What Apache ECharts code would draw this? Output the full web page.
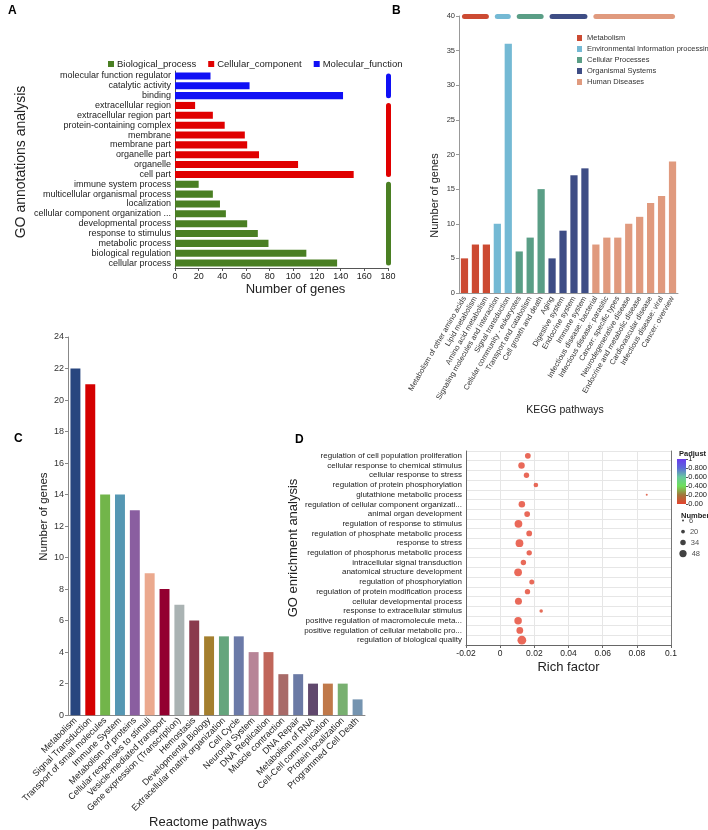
<!DOCTYPE html>
<html>
<head>
<meta charset="utf-8">
<script src="https://cdn.jsdelivr.net/npm/echarts@6/dist/echarts.min.js"></script>
<style>
html, body { margin: 0; padding: 0; background: #fff; }
#chart { width: 708px; height: 830px; }
</style>
</head>
<body>
<div id="chart"></div>
<script>
// ---------- 数据 ----------
// A: GO annotations (top to bottom)
const goTerms = [
  'molecular function regulator', 'catalytic activity', 'binding',
  'extracellular region', 'extracellular region part', 'protein-containing complex',
  'membrane', 'membrane part', 'organelle part', 'organelle', 'cell part',
  'immune system process', 'multicellular organismal process', 'localization',
  'cellular component organization ...', 'developmental process', 'response to stimulus',
  'metabolic process', 'biological regulation', 'cellular process'
]
const goCounts = [30, 63, 142, 17, 32, 42, 59, 61, 71, 104, 151, 20, 32, 38, 43, 61, 70, 79, 111, 137]
const goGroupOf = ['MF', 'MF', 'MF', 'CC', 'CC', 'CC', 'CC', 'CC', 'CC', 'CC', 'CC',
  'BP', 'BP', 'BP', 'BP', 'BP', 'BP', 'BP', 'BP', 'BP']
const goGroups = [
  { key: 'BP', name: 'Biological_process', color: '#4a7f23' },
  { key: 'CC', name: 'Cellular_component', color: '#e00000' },
  { key: 'MF', name: 'Molecular_function', color: '#1010f5' }
]

// B: KEGG pathways
const keggTerms = [
  'Metabolism of other amino acids', 'Lipid metabolism', 'Amino acid metabolism',
  'Signaling molecules and interaction', 'Signal transduction',
  'Cellular community - eukaryotes', 'Transport and catabolism', 'Cell growth and death',
  'Aging', 'Digestive system', 'Endocrine system', 'Immune system',
  'Infectious disease: bacterial', 'Infectious disease: parasitic', 'Cancer: specific types',
  'Neurodegenerative disease', 'Endocrine and metabolic disease', 'Cardiovascular disease',
  'Infectious disease: viral', 'Cancer: overview'
]
const keggCounts = [5, 7, 7, 10, 36, 6, 8, 15, 5, 9, 17, 18, 7, 8, 8, 10, 11, 13, 14, 19]
const keggGroupOf = [0, 0, 0, 1, 1, 2, 2, 2, 3, 3, 3, 3, 4, 4, 4, 4, 4, 4, 4, 4]
const keggGroups = ['Metabolism', 'Environmental Information processing', 'Cellular Processes',
  'Organismal Systems', 'Human Diseases']
const keggColors = ['#cc4a32', '#74b9d4', '#5a9e86', '#3e4d85', '#e09a7e']

// C: Reactome pathways
const reactTerms = [
  'Metabolism', 'Signal Transduction', 'Transport of small molecules', 'Immune System',
  'Metabolism of proteins', 'Cellular responses to stimuli', 'Vesicle-mediated transport',
  'Gene expression (Transcription)', 'Hemostasis', 'Developmental Biology',
  'Extracellular matrix organization', 'Cell Cycle', 'Neuronal System', 'DNA Replication',
  'Muscle contraction', 'DNA Repair', 'Metabolism of RNA', 'Cell-Cell communication',
  'Protein localization', 'Programmed Cell Death'
]
const reactCounts = [22, 21, 14, 14, 13, 9, 8, 7, 6, 5, 5, 5, 4, 4, 2.6, 2.6, 2, 2, 2, 1]
const reactColors = ['#28467f', '#d40000', '#72b54a', '#5597b3', '#8a5ea0', '#eba98e',
  '#930030', '#aab3b3', '#8a3a4d', '#a47f2e', '#65a57d', '#6b7aa8', '#b78497', '#c0665a',
  '#a86a68', '#6b7aa5', '#60486d', '#c0794a', '#78b070', '#7594b0']

// D: GO enrichment (top to bottom)
const enrichTerms = [
  'regulation of cell population proliferation', 'cellular response to chemical stimulus',
  'cellular response to stress', 'regulation of protein phosphorylation',
  'glutathione metabolic process', 'regulation of cellular component organizati...',
  'animal organ development', 'regulation of response to stimulus',
  'regulation of phosphate metabolic process', 'response to stress',
  'regulation of phosphorus metabolic process', 'intracellular signal transduction',
  'anatomical structure development', 'regulation of phosphorylation',
  'regulation of protein modification process', 'cellular developmental process',
  'response to extracellular stimulus', 'positive regulation of macromolecule meta...',
  'positive regulation of cellular metabolic pro...', 'regulation of biological quality'
]
const enrichRich = [0.0162, 0.0125, 0.0154, 0.0209, 0.0858, 0.0127, 0.0158, 0.0107, 0.0170, 0.0113,
  0.0170, 0.0136, 0.0105, 0.0185, 0.0160, 0.0107, 0.0240, 0.0105, 0.0115, 0.0127]
const enrichNumber = [36, 42, 33, 27, 6, 42, 36, 52, 36, 52, 33, 33, 52, 30, 33, 46, 18, 50, 44, 60]
const enrichPadj = [0.002, 0.003, 0.004, 0.01, 0.03, 0.004, 0.006, 0.001, 0.005, 0.001,
  0.005, 0.008, 0.001, 0.01, 0.007, 0.002, 0.02, 0.001, 0.002, 0.001]
const sizeLegend = [6, 20, 34, 48]

// ---------- 样式 ----------
const FONT = 'Liberation Sans, Arial, sans-serif'
const TXT = '#222'
const padjColors = ['#e5432f', '#a3743a', '#6ee05a', '#68c8a0', '#5c6ad8', '#6a3aee'] // 0 -> 1
const bubbleSize = n => 2 + (n - 6) * 0.125

function axisName(size, padding) {
  return { fontSize: size, color: TXT, fontFamily: FONT, padding: padding || 0 }
}

const chart = echarts.init(document.getElementById('chart'), null, { renderer: 'canvas' })

// A: one stacked series per GO category, plus the coloured strip at x = 180
const seriesA = goGroups.map(g => {
  const idx = goTerms.map((t, i) => i).filter(i => goGroupOf[i] === g.key)
  return {
    name: g.name, type: 'bar', xAxisIndex: 0, yAxisIndex: 0, stack: 'go',
    barWidth: '72%', itemStyle: { color: g.color },
    data: goCounts.map((v, i) => goGroupOf[i] === g.key ? v : '-'),
    markLine: {
      silent: true, symbol: 'none', label: { show: false },
      lineStyle: { color: g.color, width: 5, type: 'solid', cap: 'round' },
      data: [[{ coord: [180, goTerms[idx[0]]] }, { coord: [180, goTerms[idx[idx.length - 1]]] }]]
    }
  }
})

// B: one stacked series per KEGG class, strip on y = 40
const seriesB = keggGroups.map((name, gi) => {
  const idx = keggTerms.map((t, i) => i).filter(i => keggGroupOf[i] === gi)
  return {
    name, type: 'bar', xAxisIndex: 1, yAxisIndex: 1, stack: 'kegg',
    barWidth: '66%', itemStyle: { color: keggColors[gi] },
    data: keggCounts.map((v, i) => keggGroupOf[i] === gi ? v : '-'),
    markLine: {
      silent: true, symbol: 'none', label: { show: false },
      lineStyle: { color: keggColors[gi], width: 5, type: 'solid', cap: 'round' },
      data: [[{ coord: [keggTerms[idx[0]], 40] }, { coord: [keggTerms[idx[idx.length - 1]], 40] }]]
    }
  }
})

const seriesC = {
  name: 'Reactome', type: 'bar', xAxisIndex: 2, yAxisIndex: 2, barWidth: '67%',
  data: reactCounts.map((v, i) => ({ value: v, itemStyle: { color: reactColors[i] } }))
}

const seriesD = {
  name: 'enrich', type: 'scatter', xAxisIndex: 3, yAxisIndex: 3,
  symbolSize: v => bubbleSize(v[2]),
  data: enrichTerms.map((t, i) => [enrichRich[i], t, enrichNumber[i], enrichPadj[i]])
}

const seriesSize = {
  name: 'sizeLegend', type: 'scatter', xAxisIndex: 4, yAxisIndex: 4, silent: true,
  symbolSize: v => bubbleSize(v[2]), itemStyle: { color: '#111' },
  label: { show: true, position: 'right', distance: 5, fontSize: 7.5, color: TXT, fontFamily: FONT,
    formatter: p => String(p.value[2]) },
  data: sizeLegend.map(n => [0, String(n), n])
}

const option = {
  animation: false,
  backgroundColor: '#fff',
  textStyle: { fontFamily: FONT },
  title: [
    { text: 'A', left: 3, top: 0, textStyle: { fontSize: 12, fontWeight: 'bold', color: '#000', fontFamily: FONT } },
    { text: 'B', left: 387, top: 0, textStyle: { fontSize: 12, fontWeight: 'bold', color: '#000', fontFamily: FONT } },
    { text: 'C', left: 9, top: 428, textStyle: { fontSize: 12, fontWeight: 'bold', color: '#000', fontFamily: FONT } },
    { text: 'D', left: 290, top: 429, textStyle: { fontSize: 12, fontWeight: 'bold', color: '#000', fontFamily: FONT } },
    { text: 'Padjust', left: 674, top: 445, textStyle: { fontSize: 7.5, fontWeight: 'bold', color: TXT, fontFamily: FONT } },
    { text: 'Number', left: 676, top: 507, textStyle: { fontSize: 7.5, fontWeight: 'bold', color: TXT, fontFamily: FONT } }
  ],
  legend: [
    {
      data: goGroups.map(g => g.name), left: 103, top: 54, icon: 'rect',
      itemWidth: 6, itemHeight: 6, itemGap: 12,
      textStyle: { fontSize: 9.5, color: TXT, fontFamily: FONT, padding: [0, 0, 0, -2] }
    },
    {
      data: keggGroups, orient: 'vertical', left: 572, top: 29, icon: 'rect',
      itemWidth: 5, itemHeight: 6, itemGap: 3,
      textStyle: { fontSize: 7.5, color: '#333', fontFamily: FONT }
    }
  ],
  // Padjust 着色（图例条用 graphic 画）
  visualMap: {
    type: 'continuous', show: false, seriesIndex: 9, dimension: 3, min: 0, max: 1,
    inRange: { color: padjColors }
  },
  graphic: [{
    type: 'rect', left: 677, top: 459, silent: true,
    shape: { width: 9, height: 45 },
    style: {
      fill: new echarts.graphic.LinearGradient(0, 1, 0, 0,
        padjColors.map((c, i) => ({ offset: i / (padjColors.length - 1), color: c })))
    }
  }],
  grid: [
    { left: 175, top: 71, width: 213, height: 197 },
    { left: 459, top: 16, width: 219, height: 277 },
    { left: 68, top: 337, width: 297, height: 381 },
    { left: 466, top: 451, width: 205, height: 194 },
    { left: 680, top: 515, width: 6, height: 44 },
    { left: 686, top: 459, width: 1, height: 45 }
  ],
  xAxis: [
    {
      gridIndex: 0, type: 'value', min: 0, max: 180, interval: 20,
      axisLine: { show: true, lineStyle: { color: '#555' } },
      axisTick: { show: true, length: 3, lineStyle: { color: '#555' } },
      splitLine: { show: false },
      axisLabel: { fontSize: 9, color: TXT, margin: 4 },
      name: 'Number of genes', nameLocation: 'middle', nameGap: 15,
      nameTextStyle: axisName(13, [0, 0, 0, 28])
    },
    {
      gridIndex: 1, type: 'category', data: keggTerms,
      axisLine: { lineStyle: { color: '#999' } },
      axisTick: { alignWithLabel: true, length: 3, lineStyle: { color: '#999' } },
      axisLabel: { interval: 0, rotate: 60, fontSize: 7.5, color: '#333', margin: 4 },
      name: 'KEGG pathways', nameLocation: 'middle', nameGap: 112,
      nameTextStyle: axisName(10.5, [0, 7, 0, 0])
    },
    {
      gridIndex: 2, type: 'category', data: reactTerms,
      axisLine: { lineStyle: { color: '#888' } },
      axisTick: { alignWithLabel: true, length: 3, lineStyle: { color: '#888' } },
      axisLabel: { interval: 0, rotate: 45, fontSize: 9, color: TXT, margin: 4 },
      name: 'Reactome pathways', nameLocation: 'middle', nameGap: 97,
      nameTextStyle: axisName(13, [0, 17, 0, 0])
    },
    {
      gridIndex: 3, type: 'value', min: -0.02, max: 0.1, interval: 0.02,
      axisLine: { show: true, onZero: false, lineStyle: { color: '#666' } },
      axisTick: { show: true, length: 3, lineStyle: { color: '#666' } },
      splitLine: { show: true, lineStyle: { color: '#e6e6e6' } },
      axisLabel: { fontSize: 8.5, color: TXT, margin: 4 },
      name: 'Rich factor', nameLocation: 'middle', nameGap: 16,
      nameTextStyle: axisName(13)
    },
    { gridIndex: 4, type: 'value', min: -1, max: 1, show: false },
    { gridIndex: 5, type: 'value', show: false }
  ],
  yAxis: [
    {
      gridIndex: 0, type: 'category', data: goTerms, inverse: true,
      axisLine: { lineStyle: { color: '#555' } },
      axisTick: { alignWithLabel: true, length: 3, lineStyle: { color: '#555' } },
      axisLabel: { interval: 0, fontSize: 9, color: TXT, margin: 4 },
      name: 'GO annotations analysis', nameLocation: 'middle', nameGap: 147,
      nameTextStyle: axisName(14, [0, 0, 0, 15])
    },
    {
      gridIndex: 1, type: 'value', min: 0, max: 40, interval: 5,
      axisLine: { show: true, lineStyle: { color: '#999' } },
      axisTick: { show: true, length: 3, lineStyle: { color: '#999' } },
      splitLine: { show: false },
      axisLabel: { fontSize: 7.5, color: '#333', margin: 4 },
      name: 'Number of genes', nameLocation: 'middle', nameGap: 19,
      nameTextStyle: axisName(11, [0, 82, 0, 0])
    },
    {
      gridIndex: 2, type: 'value', min: 0, max: 24, interval: 2,
      axisLine: { show: true, lineStyle: { color: '#888' } },
      axisTick: { show: true, length: 3, lineStyle: { color: '#888' } },
      splitLine: { show: false },
      axisLabel: { fontSize: 9, color: '#333', margin: 4 },
      name: 'Number of genes', nameLocation: 'middle', nameGap: 18,
      nameTextStyle: axisName(11.5, [0, 0, 0, 19])
    },
    {
      gridIndex: 3, type: 'category', data: enrichTerms, inverse: true,
      axisLine: { onZero: false, lineStyle: { color: '#666' } },
      axisTick: { alignWithLabel: true, length: 3, lineStyle: { color: '#666' } },
      splitLine: { show: true, lineStyle: { color: '#e6e6e6' } },
      axisLabel: { interval: 0, fontSize: 8, color: TXT, margin: 4 },
      name: 'GO enrichment analysis', nameLocation: 'middle', nameGap: 165,
      nameTextStyle: axisName(13)
    },
    { gridIndex: 4, type: 'category', data: sizeLegend.map(String), inverse: true, show: false },
    {
      gridIndex: 5, type: 'value', min: 0, max: 1, interval: 0.2, position: 'right',
      axisLine: { show: false },
      axisTick: { show: true, length: 2, lineStyle: { color: '#555' } },
      splitLine: { show: false },
      axisLabel: {
        fontSize: 7.5, color: TXT, margin: 2,
        formatter: v => v === 1 ? '1' : v === 0 ? '0.00' : v.toFixed(3)
      }
    },
    {
      gridIndex: 3, type: 'value', position: 'right', min: 0, max: 1,
      axisLine: { show: true, onZero: false, lineStyle: { color: '#777' } },
      axisTick: { show: false }, axisLabel: { show: false }, splitLine: { show: false }
    }
  ],
  series: [...seriesA, ...seriesB, seriesC, seriesD, seriesSize]
}

chart.setOption(option)
</script>
</body>
</html>
